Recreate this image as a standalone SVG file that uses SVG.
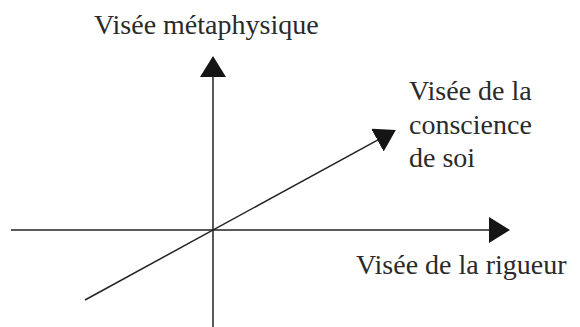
<svg xmlns="http://www.w3.org/2000/svg" width="580" height="327" viewBox="0 0 580 327">
  <style>
    .axis { stroke: #222; stroke-width: 1.5; fill: none; }
  </style>
  <defs>
    <marker id="arrow" markerUnits="userSpaceOnUse" markerWidth="23" markerHeight="27" refX="10" refY="13" orient="auto">
      <path d="M0,0 L21,13 L0,26 Z" fill="#151515"/>
    </marker>
  </defs>
  <rect width="580" height="327" fill="#ffffff"/>
  <g id="connectors">
    <line id="axis-rigueur" class="axis" x1="11" y1="230" x2="499" y2="230" marker-end="url(#arrow)"/>
    <line id="axis-metaphysique" class="axis" x1="213" y1="327" x2="213" y2="67" marker-end="url(#arrow)"/>
    <line id="axis-conscience" class="axis" x1="85" y1="300" x2="386.2" y2="135.3" marker-end="url(#arrow)"/>
  </g>
  <g id="label-metaphysique">
    <text x="94" y="34" font-family="Liberation Serif" font-size="28" fill="#2a2a2a">Visée métaphysique</text>
  </g>
  <g id="label-conscience">
    <text x="409" y="100" font-family="Liberation Serif" font-size="28" fill="#2a2a2a">Visée de la</text>
    <text x="409" y="134" font-family="Liberation Serif" font-size="28" fill="#2a2a2a">conscience</text>
    <text x="409" y="167" font-family="Liberation Serif" font-size="28" fill="#2a2a2a">de soi</text>
  </g>
  <g id="label-rigueur">
    <text x="356" y="274" font-family="Liberation Serif" font-size="28" fill="#2a2a2a">Visée de la rigueur</text>
  </g>
</svg>
